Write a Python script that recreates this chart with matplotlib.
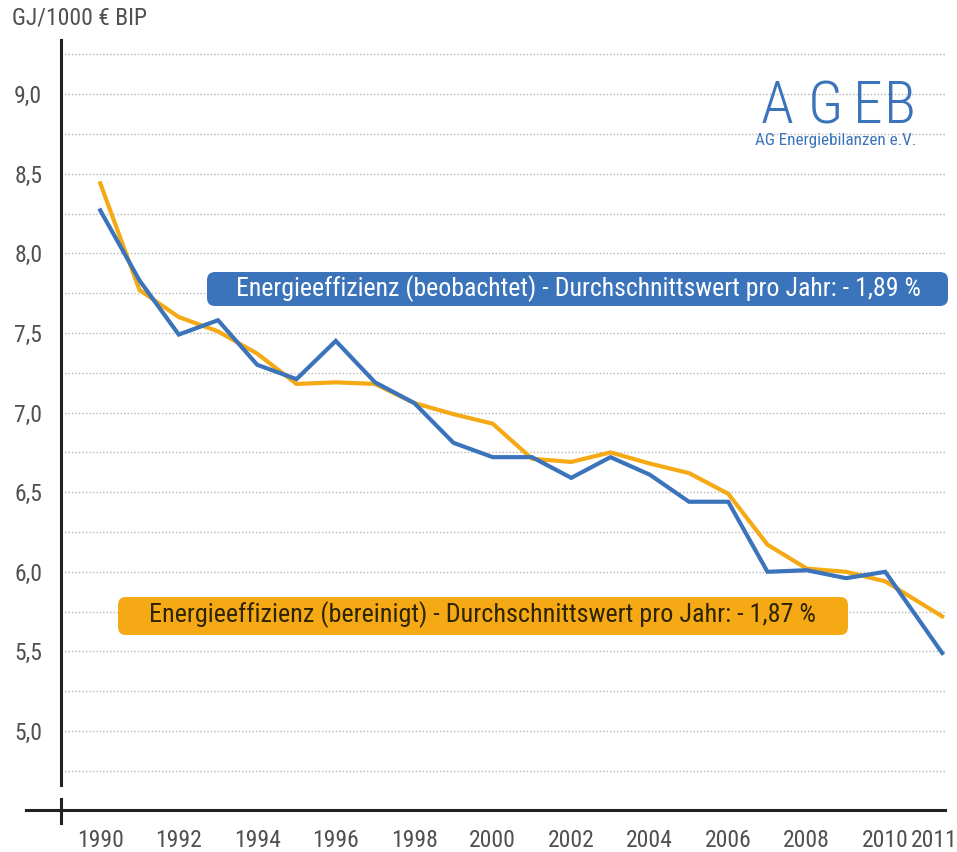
import numpy as np
import matplotlib
matplotlib.use('Agg')
import matplotlib.pyplot as plt
from matplotlib.patches import FancyBboxPatch
from matplotlib.transforms import IdentityTransform, ScaledTranslation

plt.rcParams['font.family'] = ['Roboto Condensed', 'DejaVu Sans']

years = [1990, 1991, 1992, 1993, 1994, 1995, 1996, 1997, 1998, 1999, 2000,
         2001, 2002, 2003, 2004, 2005, 2006, 2007, 2008, 2009, 2010, 2011]
observed = [8.27, 7.83, 7.49, 7.58, 7.30, 7.21, 7.45, 7.19, 7.06, 6.81, 6.72,
            6.72, 6.59, 6.72, 6.61, 6.44, 6.44, 6.00, 6.01, 5.96, 6.00, 5.49]
adjusted = [8.44, 7.77, 7.60, 7.51, 7.37, 7.18, 7.19, 7.18, 7.06, 6.99, 6.93,
            6.71, 6.69, 6.75, 6.68, 6.62, 6.49, 6.17, 6.02, 6.00, 5.94, 5.72]

xtick_years = [1990, 1992, 1994, 1996, 1998, 2000, 2002, 2004, 2006, 2008, 2010, 2011]
ytick_values = [5.0, 5.5, 6.0, 6.5, 7.0, 7.5, 8.0, 8.5, 9.0]
ytick_labels = ['5,0', '5,5', '6,0', '6,5', '7,0', '7,5', '8,0', '8,5', '9,0']
grid_minor = [4.75, 5.25, 5.75, 6.25, 6.75, 7.25, 7.75, 8.25, 8.75, 9.25]

label_obs = 'Energieeffizienz (beobachtet) - Durchschnittswert pro Jahr: - 1,89 %'
label_adj = 'Energieeffizienz (bereinigt) - Durchschnittswert pro Jahr: - 1,87 %'

BLUE = '#3b74bb'
ORANGE = '#f5a915'
GREY = '#505050'

W, H = 957, 852
fig = plt.figure(figsize=(W / 100, H / 100), dpi=100)
ax = fig.add_axes([61 / W, (H - 810) / H, (945 - 61) / W, (810 - 40) / H])

# last year is drawn wider apart in the original
def fwd(x):
  x = np.asarray(x, dtype=float)
  return np.where(x <= 2010, x, 2010 + 1.45 * (x - 2010))

def inv(x):
  x = np.asarray(x, dtype=float)
  return np.where(x <= 2010, x, 2010 + (x - 2010) / 1.45)

ax.set_xscale('function', functions=(fwd, inv))

ax.plot(years, adjusted, color=ORANGE, lw=3.0, solid_joinstyle='miter', zorder=3)
ax.plot(years, observed, color=BLUE, lw=3.0, solid_joinstyle='miter', zorder=4)

ax.set_xlim(1989.0, 2011.05)
ax.set_ylim(4.504, 9.34)

ax.set_yticks(ytick_values)
ax.set_yticklabels(ytick_labels)
ax.set_yticks(grid_minor, minor=True)
ax.set_xticks(xtick_years)
ax.set_xticklabels([str(y) for y in xtick_years])
ax.xaxis.set_minor_locator(matplotlib.ticker.NullLocator())

ax.tick_params(axis='both', which='both', length=0, labelsize=17, labelcolor=GREY)
ax.tick_params(axis='y', pad=13.5)
ax.tick_params(axis='x', pad=14)
last = ax.get_xticklabels()[-1]
last.set_transform(last.get_transform() + ScaledTranslation(-6 / 72, 0, fig.dpi_scale_trans))

ax.grid(axis='y', which='both', color='#b5b5b5', ls=(0, (1, 1.5)), lw=1.0)
ax.set_axisbelow(True)
for s in ax.spines.values():
  s.set_visible(False)

# axis lines
fig.add_artist(plt.Line2D([61, 61], [H - 785, H - 40], transform=IdentityTransform(),
                          color='#222222', lw=2.2))
fig.add_artist(plt.Line2D([26, 945], [H - 810, H - 810], transform=IdentityTransform(),
                          color='#222222', lw=2.2))
fig.add_artist(plt.Line2D([61, 61], [H - 823, H - 799], transform=IdentityTransform(),
                          color='#222222', lw=2.2))

fig.text(12 / W, 1 - 18 / H, 'GJ/1000 € BIP', fontsize=17, color=GREY,
         ha='left', va='center')

# labelled boxes
fig.add_artist(FancyBboxPatch((207, H - 306), 741, 34, transform=IdentityTransform(),
                              boxstyle='round,pad=0,rounding_size=8', fc=BLUE, ec='none'))
fig.text(578 / W, 1 - 289 / H, label_obs, fontsize=18.6, color='white', ha='center', va='center')

fig.add_artist(FancyBboxPatch((118, H - 635), 730, 38, transform=IdentityTransform(),
                              boxstyle='round,pad=0,rounding_size=8', fc=ORANGE, ec='none'))
fig.text(482 / W, 1 - 615 / H, label_adj, fontsize=18.8, color='#2e2400', ha='center', va='center')

# logo
for ch, cx in zip('AGEB', [777, 825, 868, 900]):
  fig.text(cx / W, 1 - 123 / H, ch, fontsize=43, color=BLUE, fontweight='light',
           ha='center', va='baseline')
fig.text(755 / W, 1 - 145 / H, 'AG Energiebilanzen e.V.', fontsize=12.3, color=BLUE,
         ha='left', va='baseline')

fig.savefig('out.png', dpi=100)
